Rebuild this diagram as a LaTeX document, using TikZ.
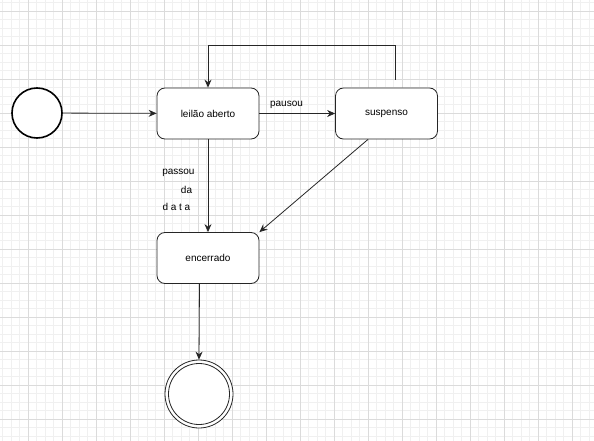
\documentclass[tikz,border=0pt]{standalone}
\usepackage{fontspec}
\setmainfont{Liberation Sans}
\usetikzlibrary{arrows.meta}
\begin{document}
\begin{tikzpicture}[x=1pt,y=-1pt,
  state/.style={draw=black!85, rounded corners=8pt, minimum width=102pt, minimum height=51pt, fill=white, font=\fontsize{10}{12}\selectfont, line width=0.8pt, inner sep=0pt},
  conn/.style={draw=black!85, line width=0.8pt, -{Stealth[length=8pt,width=7pt]}},
  lbl/.style={font=\fontsize{10}{12}\selectfont, inner sep=0pt},
  minorgrid/.style={draw=black!6, line width=0.6pt},
  majorgrid/.style={draw=black!14, line width=0.7pt}]
\useasboundingbox (0,0) rectangle (594,441);
\fill[white] (0,0) rectangle (594,441);
\begin{scope}
\clip (0,0) rectangle (594,441);
\foreach \i in {0,...,69} \draw[minorgrid] ({2.5+8.5*\i},0) -- ({2.5+8.5*\i},441);
\foreach \j in {0,...,51} \draw[minorgrid] (0,{2.5+8.5*\j}) -- (594,{2.5+8.5*\j});
\foreach \i in {0,...,17} \draw[majorgrid] ({28+34*\i},0) -- ({28+34*\i},441);
\foreach \j in {0,...,12} \draw[majorgrid] (0,{11+34*\j}) -- (594,{11+34*\j});
\end{scope}

\node[circle, draw=black, fill=white, line width=1.6pt, minimum size=50pt, inner sep=0pt] (init) at (37,113) {};
\node[state] (open) at (208,113.5) {leilão aberto};
\node[state] (susp) at (386.5,113.5) {suspenso};
\node[state] (enc) at (208,258) {encerrado};
\node[circle, draw=black!85, fill=white, line width=0.8pt, minimum size=68pt, inner sep=0pt] (final) at (199,394) {};
\draw[black!85, line width=0.8pt] (final.center) circle (30.5);

\coordinate (lt) at (208,45.5);
\draw[conn] (init) -- (open);
\draw[conn] (open) -- (susp);
\node[lbl] (lp) at (286.5,105) {pausou};
\draw[conn] ([xshift=8.5pt,yshift=8pt]susp.north) |- (lt) -- (open.north);
\draw[conn] (open) -- (enc);
\node[lbl] (l1) at (178.4,173) {passou};
\node[lbl] (l2) at (186.5,190) {da};
\node[lbl] (l3) at (176.4,206.7) {d a t a};
\draw[conn] ([xshift=-18.5pt]susp.south) -- (enc.north east);
\draw[conn] ([xshift=-8.5pt]enc.south) -- (final.north);
\end{tikzpicture}
\end{document}
